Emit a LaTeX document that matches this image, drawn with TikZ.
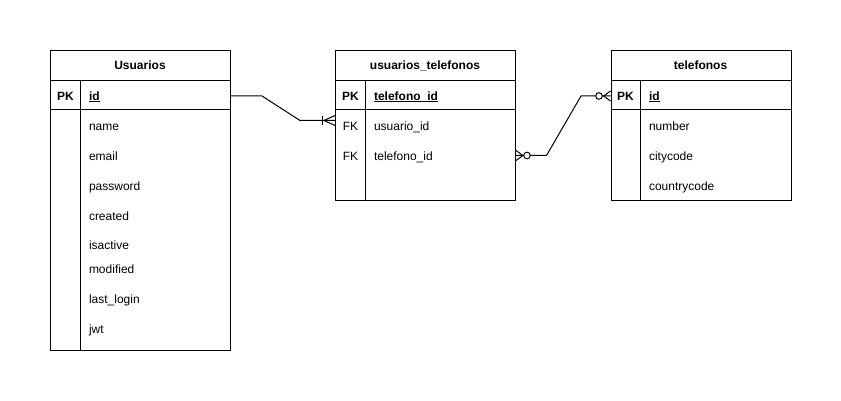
\documentclass[tikz,border=0pt]{standalone}
\usepackage{fontspec}
\setmainfont{Liberation Sans}
% bold key field with an underline just below the baseline
\newcommand\keyul[1]{\setbox0=\hbox{#1}\rlap{\rule[-1.8pt]{\wd0}{0.9pt}}\box0}
\begin{document}
\fontsize{12pt}{14pt}\selectfont
\begin{tikzpicture}[x=1pt,y=-1pt,line width=1pt,
  tbl/.style={draw,fill=white,inner sep=0pt,anchor=north west,minimum width=180pt},
  tblrow/.style={inner sep=0pt,anchor=north west,minimum width=180pt,minimum height=30pt},
  title/.style={font=\bfseries,anchor=base,inner sep=0pt},
  keylbl/.style={anchor=base,inner sep=0pt},
  fld/.style={anchor=base west,inner sep=0pt},
  conn/.style={line width=1pt,line join=miter},
]
\useasboundingbox (0,0) rectangle (841,401);

% ---------- Usuarios ----------
\node[tbl,minimum height=300pt] (usu) at (50,50) {};
\draw (50,80.5) -- (230,80.5);
\draw (50,110) -- (230,110);
\draw (80.5,80.5) -- (80.5,350);
\node[tblrow] (usuPK) at (50,80.5) {};
\node[title] (usuT) at (140,69.5) {Usuarios};
\node[keylbl,font=\bfseries] (usuPKk) at (65.5,100.5) {PK};
\node[fld,font=\bfseries] (usuPKf) at (88.5,100.5) {\keyul{id}};
\node[fld] (usuF1) at (88.5,130.5) {name};
\node[fld] (usuF2) at (88.5,160.5) {email};
\node[fld] (usuF3) at (88.5,190.5) {password};
\node[fld] (usuF4) at (88.5,220) {created};
\node[fld] (usuF5) at (88.5,249.5) {isactive};
\node[fld] (usuF6) at (88.5,273.5) {modified};
\node[fld] (usuF7) at (88.5,303.5) {last\_login};
\node[fld] (usuF8) at (88.5,333.5) {jwt};

% ---------- usuarios_telefonos ----------
\node[tbl,minimum height=150pt] (jt) at (335,50) {};
\draw (335,80.5) -- (515,80.5);
\draw (335,110) -- (515,110);
\draw (365.5,80.5) -- (365.5,200);
\node[tblrow] (jtPK) at (335,80.5) {};
\node[tblrow] (jtFK1) at (335,110) {};
\node[tblrow] (jtFK2) at (335,140) {};
\node[title] (jtT) at (425,69.5) {usuarios\_telefonos};
\node[keylbl,font=\bfseries] (jtPKk) at (350.5,100.5) {PK};
\node[fld,font=\bfseries] (jtPKf) at (373.5,100.5) {\keyul{telefono\_id}};
\node[keylbl] (jtFK1k) at (350.5,130.5) {FK};
\node[fld] (jtFK1f) at (373.5,130.5) {usuario\_id};
\node[keylbl] (jtFK2k) at (350.5,160.5) {FK};
\node[fld] (jtFK2f) at (373.5,160.5) {telefono\_id};

% ---------- telefonos ----------
\node[tbl,minimum height=150pt] (tel) at (610.5,50) {};
\draw (610.5,80.5) -- (790.5,80.5);
\draw (610.5,110) -- (790.5,110);
\draw (640.5,80.5) -- (640.5,200);
\node[tblrow] (telPK) at (610.5,80.5) {};
\node[title] (telT) at (700.5,69.5) {telefonos};
\node[keylbl,font=\bfseries] (telPKk) at (625.5,100.5) {PK};
\node[fld,font=\bfseries] (telPKf) at (648.5,100.5) {\keyul{id}};
\node[fld] (telF1) at (648.5,130.5) {number};
\node[fld] (telF2) at (648.5,160.5) {citycode};
\node[fld] (telF3) at (648.5,190) {countrycode};

% ---------- relationships ----------
% Usuarios.id  ->  usuarios_telefonos.usuario_id  (one or many)
\coordinate (c1e) at ([yshift=5pt]jtFK1.west);
\draw[conn] (usuPK.east) -- ++(31,0) -- ([xshift=-35pt]c1e) -- (c1e);
\draw ([xshift=-13pt,yshift=-4.5pt]c1e) -- ([xshift=-13pt,yshift=4.5pt]c1e);
\draw ([yshift=5pt]c1e) -- ([xshift=-11pt]c1e) -- ([yshift=-5pt]c1e);

% usuarios_telefonos.telefono_id  ->  telefonos.id  (zero or many at both ends)
\draw[conn] (jtFK2.east) -- ++(30.5,0) -- ([xshift=-29.5pt]telPK.west) -- (telPK.west);
\draw ([yshift=5pt]jtFK2.east) -- ([xshift=7pt]jtFK2.east) -- ([yshift=-5pt]jtFK2.east);
\draw[fill=white] ([xshift=11pt]jtFK2.east) circle (3.3pt);
\draw ([yshift=5pt]telPK.west) -- ([xshift=-7pt]telPK.west) -- ([yshift=-5pt]telPK.west);
\draw[fill=white] ([xshift=-11.5pt]telPK.west) circle (3.3pt);
\end{tikzpicture}
\end{document}
